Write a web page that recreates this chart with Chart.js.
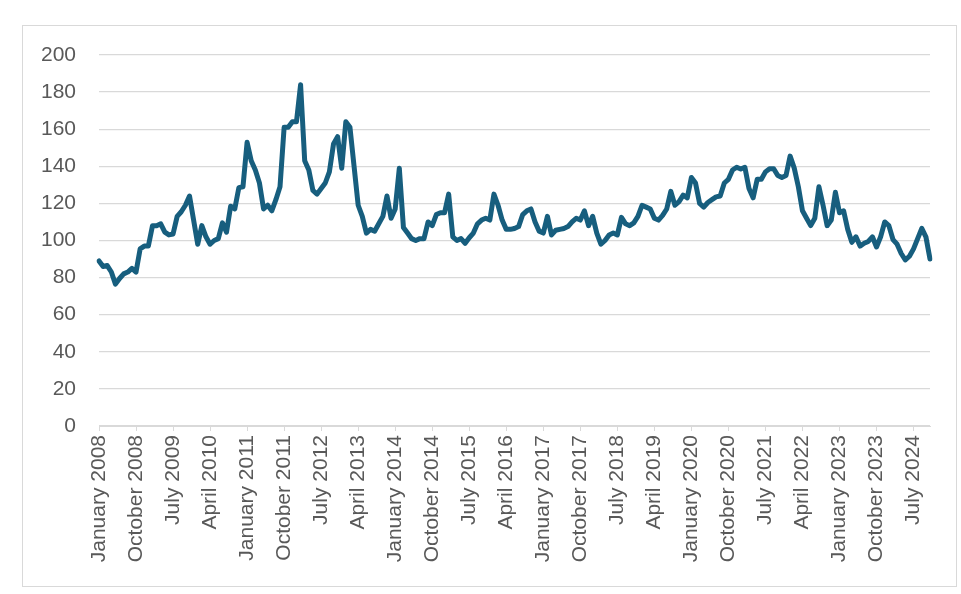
<!DOCTYPE html>
<html>
<head>
<meta charset="utf-8">
<script src="https://cdn.jsdelivr.net/npm/chart.js@4"></script>
<style>
  html, body { margin: 0; padding: 0; background: #ffffff; }
  #wrap { position: relative; width: 961px; height: 594px; }
  #frame { position: absolute; left: 22px; top: 25px; width: 935px; height: 562px; border: 1px solid #d9d9d9; box-sizing: border-box; }
  canvas { position: absolute; left: 0; top: 0; }
</style>
</head>
<body>
<div id="wrap">
  <div id="frame"></div>
  <canvas id="c" width="961" height="594"></canvas>
</div>
<script>
// ---- data ----
const monthNames = ["January","February","March","April","May","June","July","August","September","October","November","December"];
const startYear = 2008;
const tickLabels = ["January 2008","October 2008","July 2009","April 2010","January 2011","October 2011","July 2012","April 2013","January 2014","October 2014","July 2015","April 2016","January 2017","October 2017","July 2018","April 2019","January 2020","October 2020","July 2021","April 2022","January 2023","October 2023","July 2024"];
const yTicks = [0, 20, 40, 60, 80, 100, 120, 140, 160, 180, 200];

const v2008 = [89, 86, 86.5, 83, 76.5, 79.5, 82, 83, 85, 83, 95.5, 97];
const v2009 = [97, 108, 108, 109, 104.5, 103, 103.5, 113, 115.5, 119, 124, 111];
const v2010 = [98, 108, 102, 98, 100, 101, 109.5, 104.5, 118.5, 117, 128.5, 129];
const v2011 = [153, 143, 138, 131, 117, 119, 116, 122, 129, 161, 161, 164];
const v2012 = [164, 184, 143, 138, 127, 125, 128, 131, 137, 152, 156, 139];
const v2013 = [164, 161, 140, 119, 113, 104, 106, 105, 109, 113, 124, 112];
const v2014 = [117, 139, 107, 104, 101, 100, 101, 101, 110, 108, 114, 115];
const v2015 = [115, 125, 102, 100, 101, 98.5, 101.5, 104, 109, 111, 112, 111];
const v2016 = [125, 119, 111, 106, 106, 106.5, 107.5, 114, 116, 117, 110, 105];
const v2017 = [104, 113, 103, 105.5, 106, 106.5, 107.5, 110, 112, 111, 116, 108];
const v2018 = [113, 104, 98, 100, 103, 104, 103, 112.5, 109, 108, 109.5, 113];
const v2019 = [119, 118, 117, 112, 111, 113.5, 117, 126.5, 119, 121, 124.5, 123];
const v2020 = [134, 131, 120, 118, 120.5, 122, 123.5, 124, 131, 133, 138, 139.5];
const v2021 = [138.5, 139.5, 128, 123, 133, 133, 137, 138.7, 138.7, 135, 134, 135];
const v2022 = [145.5, 139, 129, 116, 112, 108, 112, 129, 119, 108, 111, 126];
const v2023 = [115, 116, 106, 99, 102, 97, 98.5, 99.5, 102, 96.5, 102, 110];
const v2024 = [108, 100.5, 98, 93, 89.5, 91.5, 95.5, 101, 106.5, 102, 90];

const values = [].concat(v2008, v2009, v2010, v2011, v2012, v2013, v2014, v2015, v2016,
  v2017, v2018, v2019, v2020, v2021, v2022, v2023, v2024);

const categories = values.map((_, i) =>
  monthNames[i % 12] + " " + (startYear + Math.floor(i / 12)));

// ---- chart ----
const textColor = "#595959";
const gridColor = "#d9d9d9";
const fontFamily = "'Liberation Sans', Arial, sans-serif";

new Chart(document.getElementById("c"), {
  type: "line",
  data: {
    labels: categories,
    datasets: [{
      data: values,
      borderColor: "#175e7e",
      borderWidth: 5,
      pointRadius: 0,
      pointHoverRadius: 0,
      tension: 0,
      borderJoinStyle: "round",
      borderCapStyle: "round",
      fill: false
    }]
  },
  options: {
    responsive: false,
    animation: false,
    events: [],
    layout: { padding: { left: 0, top: 55, right: 31, bottom: 0 } },
    plugins: { legend: { display: false }, tooltip: { enabled: false }, title: { display: false } },
    scales: {
      x: {
        type: "category",
        offset: false,
        afterFit: (s) => { s.height = 168; },
        afterBuildTicks: (s) => {
          s.ticks = s.ticks.filter(t => tickLabels.includes(categories[t.value]));
        },
        grid: { display: true, drawOnChartArea: false, drawTicks: true, tickLength: 5, color: gridColor, lineWidth: 1 },
        border: { display: true, color: gridColor, width: 1 },
        ticks: {
          autoSkip: false,
          maxRotation: 90,
          minRotation: 90,
          padding: 4,
          color: textColor,
          font: { family: fontFamily, size: 21 }
        }
      },
      y: {
        min: 0,
        max: 200,
        afterFit: (s) => { s.width = 99; },
        afterBuildTicks: (s) => { s.ticks = yTicks.map(v => ({ value: v })); },
        grid: { color: gridColor, lineWidth: 1.3, drawTicks: false },
        border: { display: false },
        ticks: {
          padding: 23,
          color: textColor,
          font: { family: fontFamily, size: 21 }
        }
      }
    }
  }
});
</script>
</body>
</html>
